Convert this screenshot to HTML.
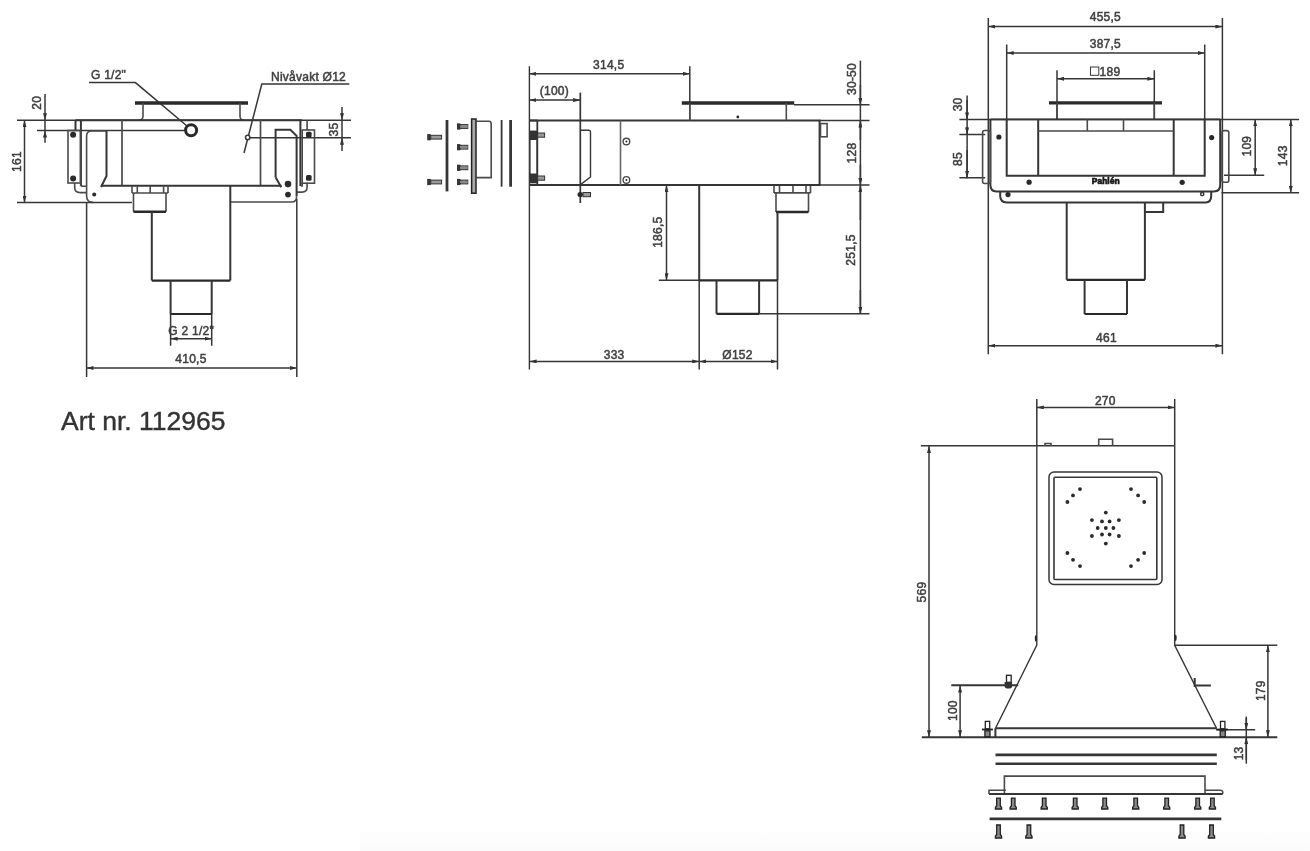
<!DOCTYPE html>
<html><head><meta charset="utf-8">
<style>
html,body{margin:0;padding:0;background:#fff;width:1310px;height:851px;overflow:hidden}
svg{display:block;position:absolute;left:0;top:0;will-change:transform}
text{font-family:"Liberation Sans",sans-serif;fill:#404040;stroke:#404040;stroke-width:0.5;letter-spacing:0.25px}
.d{font-size:12px}
.k{stroke:#363636;stroke-width:2;fill:none}
.m{stroke:#4a4a4a;stroke-width:1.6;fill:none}
.t{stroke:#363636;stroke-width:1.5;fill:none}
.g{stroke:#666;stroke-width:1.6;fill:none}
.h{stroke:#2a2a2a;stroke-width:3.3;fill:none}
.dm{stroke:#363636;stroke-width:1.5;fill:none;marker-start:url(#ar);marker-end:url(#ar)}
.de{stroke:#363636;stroke-width:1.5;fill:none;marker-end:url(#ar)}
.f{fill:#2a2a2a;stroke:none}
</style></head>
<body>
<div style="position:absolute;left:360px;top:831px;width:950px;height:20px;background:linear-gradient(#fefefe,#fbfbfb)"></div>
<svg width="1310" height="851" viewBox="0 0 1310 851">
<defs>
<marker id="ar" viewBox="0 0 7 4" refX="7" refY="2" markerWidth="7" markerHeight="4" orient="auto-start-reverse" markerUnits="userSpaceOnUse"><path d="M0,0 L7,2 L0,4z" fill="#333"/></marker>
<g id="sv"><path d="M-1.8 0 H1.8 V7.5 L3.1 9.3 V10.8 H-3.1 V9.3 L-1.8 7.5 Z" style="fill:#8a8a8a;stroke:#222;stroke-width:1.3"/></g>
<g id="sv2"><path d="M-1.8 0 H1.8 V9.5 L3.1 11.3 V13 H-3.1 V11.3 L-1.8 9.5 Z" style="fill:#8a8a8a;stroke:#222;stroke-width:1.3"/></g>
</defs>

<!-- ============ LEFT VIEW ============ -->
<g id="left">
<!-- leaders -->
<text class="d" x="91" y="79">G 1/2"</text>
<path class="t" d="M89 82.6 H135.4 L187 126"/>
<text class="d" x="271" y="80.5">Nivåvakt Ø12</text>
<path class="t" d="M349.3 84.1 H261.8 L244 153"/>
<circle class="t" cx="247.7" cy="137.5" r="2.2" style="fill:#fff"/>
<!-- lid -->
<path class="h" d="M135 103 H248"/>
<path class="m" d="M143 103 V116 Q143 120 139 120.2 M240 103 V116 Q240 120 244 120.2"/>
<!-- top/ext lines -->
<path class="t" d="M17 120.2 H351"/>
<path class="k" d="M75.5 120.2 H302"/>
<path class="t" d="M37 130.5 H186"/>
<path class="t" d="M250 137.7 H351"/>
<path class="k" d="M75.5 120 V130.5 M80.9 120 V186 M300.4 120 V186"/><path class="k" style="stroke:#4a4a4a;stroke-width:1.7" d="M122 120 V186 M260.5 120 V186"/>
<path class="k" d="M102 185.8 H281.6"/>
<!-- circle G1/2 -->
<circle cx="191.1" cy="130.2" r="5.5" style="fill:#fff;stroke:#2a2a2a;stroke-width:3"/>
<!-- left bracket -->
<rect class="m" x="68" y="130.5" width="12.4" height="52.5"/>
<circle class="f" cx="73.1" cy="134.8" r="3"/>
<circle class="f" cx="73.1" cy="178.5" r="3"/>
<path class="m" d="M74.7 183 V187.5 Q74.7 192.6 80.2 192.6 H86.3 M80.8 183 V185 Q80.8 186.2 83.2 186.2 H86.3"/>
<path class="m" d="M106.5 131 H91.5 Q86.6 131 86.6 136 V196 Q86.6 202.4 93 202.4"/>
<path class="k" d="M106.5 131 V176 L101 187"/>
<circle class="f" cx="94.2" cy="194.4" r="2"/>
<!-- right bracket -->
<rect class="m" x="302.2" y="130" width="12.3" height="53.2"/>
<rect class="f" x="306" y="131.8" width="5.6" height="5.6" rx="1.5"/>
<rect class="f" x="306" y="175.1" width="5.6" height="5.6" rx="1.5"/>
<path class="m" d="M307.1 182.8 V187 Q307.1 192.1 302 192.1 H296.6 M302.2 182.8 V185.9 H300.9 M307.1 120.2 V130"/>
<path class="k" d="M275.6 177.3 V129.8 H290.4 L296.6 135.9 V196.4"/>
<path class="k" d="M275.6 177.3 L281.2 187.2"/>
<path class="m" d="M296.6 196.4 Q296.6 202 291.7 202 H229.8"/>
<circle class="f" cx="288" cy="184.1" r="3.3"/>
<circle class="f" cx="288" cy="194.6" r="2.9"/>
<!-- bottom ext line -->
<path class="t" d="M17 202.6 H132"/>
<!-- nut -->
<path class="m" d="M132 186 V193 M168 186 V193 M133.5 193 V211.7 M166 193 V211.7 M132 193 H168 M137.3 186 V193 M150.2 186 V193 M163.6 186 V193"/>
<path class="h" style="stroke-width:2.4" d="M133.5 211.7 H166"/>
<!-- cylinder -->
<path class="k" d="M151.8 211.7 V280.6 M230.3 185.6 V280.6"/>
<path class="h" style="stroke-width:2.2" d="M151.8 280.6 H230.3"/>
<path class="k" d="M170.6 280.6 V314 M211.7 280.6 V314"/>
<path class="h" style="stroke-width:2.2" d="M170.6 314 H211.7"/>
<!-- dims -->
<path class="t" d="M170.6 314 V345.7 M211.7 314 V345.7 M86.6 202 V377 M296.8 199 V377"/>
<path class="dm" d="M170.6 338.7 H211.7"/>
<text class="d" x="168.3" y="335">G 2 1/2"</text>
<path class="dm" d="M86.5 368 H296.8"/>
<text class="d" x="175.3" y="363.4">410,5</text>
<path class="dm" d="M24.5 120.2 V202.6"/>
<text class="d" text-anchor="middle" transform="translate(20.5 161.5) rotate(-90)">161</text>
<path class="de" d="M45 94 V120.2"/><path class="de" d="M45 142.7 V130.5"/>
<path class="t" d="M45 120.2 V130.5"/>
<text class="d" text-anchor="middle" transform="translate(40.7 102.8) rotate(-90)">20</text>
<path class="de" d="M342 107 V120.2"/><path class="de" d="M342 151 V137.7"/>
<path class="t" d="M342 120.2 V137.7"/>
<text class="d" text-anchor="middle" transform="translate(337.8 129.6) rotate(-90)">35</text>
</g>

<text x="61" y="430" style="font-size:26.5px;fill:#333;stroke:#333;stroke-width:0.4;letter-spacing:0">Art nr. 112965</text>

<!-- MIDDLE -->
<g id="mid">
<!-- exploded parts -->
<rect x="427.2" y="134.1" width="3.6" height="6.2" style="fill:#333"/><rect x="430.8" y="135.29999999999998" width="10.8" height="3.8" style="fill:#9a9a9a;stroke:#333;stroke-width:1"/>
<rect x="427.2" y="178.9" width="3.6" height="6.2" style="fill:#333"/><rect x="430.8" y="180.1" width="10.8" height="3.8" style="fill:#9a9a9a;stroke:#333;stroke-width:1"/>
<rect x="457" y="123.4" width="3.4" height="6.2" style="fill:#333"/><rect x="460.4" y="124.6" width="7.4" height="3.8" style="fill:#9a9a9a;stroke:#333;stroke-width:1"/>
<rect x="457" y="144.1" width="3.4" height="6.2" style="fill:#333"/><rect x="460.4" y="145.29999999999998" width="7.4" height="3.8" style="fill:#9a9a9a;stroke:#333;stroke-width:1"/>
<rect x="457" y="164.70000000000002" width="3.4" height="6.2" style="fill:#333"/><rect x="460.4" y="165.9" width="7.4" height="3.8" style="fill:#9a9a9a;stroke:#333;stroke-width:1"/>
<rect x="457" y="178.9" width="3.4" height="6.2" style="fill:#333"/><rect x="460.4" y="180.1" width="7.4" height="3.8" style="fill:#9a9a9a;stroke:#333;stroke-width:1"/>
<path class="k" style="stroke-width:2.8" d="M447 120 V191.4"/>
<path class="k" style="stroke-width:3" d="M457.3 126.5 H460 M457.3 147.2 H460 M457.3 167.8 H460 M457.3 182 H460"/>
<path class="g" style="stroke-width:2.2;stroke:#888" d="M460 126.5 H467.7 M460 147.2 H467.7 M460 167.8 H467.7 M460 182 H467.7"/>
<rect x="471.6" y="119" width="4.4" height="74.2" style="fill:#aaa;stroke:#222;stroke-width:1.5"/>
<path class="m" d="M476.1 121.2 H489 Q491.2 121.2 491.2 124 V177.6 H476.1"/>
<path class="k" style="stroke-width:1.8" d="M501.6 120 V186.7"/><path class="k" style="stroke-width:2.8" d="M510.6 120 V186.7"/>
<!-- dims -->
<path class="t" style="stroke-width:1.4;stroke:#333" d="M529.4 66.3 V369.6"/>
<path class="dm" d="M529.4 73.8 H689.8"/>
<text class="d" x="608.7" y="68.5" text-anchor="middle">314,5</text>
<path class="t" d="M689.8 66.3 V120.5"/>
<path class="dm" d="M529.4 100.1 H580.1"/>
<text class="d" x="554.4" y="95.4" text-anchor="middle">(100)</text>

<path class="t" d="M860.4 60.6 V313.8"/>
<path class="de" d="M860.4 85 V104.8"/><path class="de" d="M860.4 140 V120.5"/><path class="de" d="M860.4 165 V185.1"/>
<path class="de" d="M860.4 220 V185.1"/><path class="de" d="M860.4 290 V313.8"/>
<text class="d" text-anchor="middle" transform="translate(855.8 79) rotate(-90)">30-50</text>
<text class="d" text-anchor="middle" transform="translate(855.8 153) rotate(-90)">128</text>
<text class="d" text-anchor="middle" transform="translate(855 250) rotate(-90)">251,5</text>
<path class="t" d="M794 104.8 H869.5 M819.6 120.5 H869.5 M819.6 185.1 H869.5 M759 313.8 H869.5"/>
<path class="dm" d="M666.5 185.1 V280.3"/>
<text class="d" text-anchor="middle" transform="translate(661.5 232.2) rotate(-90)">186,5</text>
<path class="t" d="M658.8 280.3 H699.2"/>
<path class="dm" d="M529.6 361.4 H699.2"/>
<text class="d" x="614.1" y="358.6" text-anchor="middle">333</text>
<path class="dm" d="M699.2 361.4 H777.5"/>
<text class="d" x="737.5" y="358.6" text-anchor="middle">Ø152</text>
<path class="t" d="M699.2 280.3 V369.6 M777.5 280.3 V369.6"/>
<!-- body -->
<path class="k" d="M529.4 120.5 H819.6 V185.1 H529.4"/>
<path class="g" style="stroke-width:1.6;stroke:#666" d="M620.5 120.5 V185.1"/>
<circle class="m" cx="626.4" cy="141.5" r="3.3" style="stroke-width:1.4"/><circle class="f" cx="626.4" cy="141.5" r="1"/>
<circle class="m" cx="626.4" cy="179.9" r="3.3" style="stroke-width:1.4"/><circle class="f" cx="626.4" cy="179.9" r="1"/>
<rect class="m" x="820.5" y="123.6" width="6.6" height="13.2"/>
<path class="h" d="M681.8 103 H794.2"/>
<path class="m" d="M689.8 103 V120.5 M786.3 103 V120.5"/>
<circle class="f" cx="737.8" cy="117" r="1.4"/>
<!-- left flange bracket -->
<path class="k" style="stroke-width:1.8" d="M529.4 120.5 H537.6"/>
<rect x="530.2" y="131.2" width="6.8" height="51.7" style="fill:none;stroke:#555;stroke-width:1"/>
<path class="k" style="stroke-width:1.8" d="M537.3 120.6 V185.2"/>
<path d="M529.4 130.8 H536 Q537.8 130.8 537.8 133 V138 Q537.8 140 536 140 H529.4 Z M529.4 173.5 H536 Q537.8 173.5 537.8 175.5 V181 Q537.8 183 536 183 H529.4 Z" style="fill:#333"/>
<rect x="537.6" y="133" width="7" height="4.2" style="fill:#999;stroke:#333;stroke-width:1"/>
<rect x="537.6" y="176" width="7" height="4.2" style="fill:#999;stroke:#333;stroke-width:1"/>
<path class="k" style="stroke-width:1.7" d="M580.3 92.6 V203"/>
<path class="k" style="stroke-width:1.4" d="M580.5 130.2 H589 Q590.5 130.2 590.5 132 V177 L580.5 184.6"/>
<circle class="f" cx="580.2" cy="194.6" r="2.7"/>
<rect x="583" y="192.5" width="7.5" height="4.2" style="fill:#999;stroke:#333;stroke-width:1"/>
<!-- nut -->
<path class="m" d="M774 186 V192.9 M810.5 186 V192.9 M776 192.9 V212 M808.5 192.9 V212 M774 192.9 H810.5 M779.5 186 V192.9 M793 186 V192.9 M806 186 V192.9"/>
<path class="h" style="stroke-width:2.4" d="M776 212 H808.5"/>
<!-- cylinder -->
<path class="k" d="M699.2 185.1 V280.3 M777.5 211.6 V280.3"/>
<path class="h" style="stroke-width:2.2" d="M699.2 280.3 H777.5"/>
<path class="k" d="M716.5 280.3 V313.8 M759.1 280.3 V313.8"/>
<path class="h" style="stroke-width:2.2" d="M716.5 313.8 H759.1"/>
</g>
<!-- RIGHT TOP -->
<g id="rtop">
<path class="t" d="M988.3 18.1 V354.2 M1222.4 18.1 V354.2"/>
<path class="dm" d="M988.3 26.6 H1222.4"/>
<text class="d" x="1105.4" y="21.2" text-anchor="middle">455,5</text>
<path class="t" d="M1006.7 44.4 V119.4 M1204.7 44.4 V119.4"/>
<path class="dm" d="M1006.7 53 H1204.7"/>
<text class="d" x="1105.4" y="47.8" text-anchor="middle">387,5</text>
<path class="t" d="M1057 70.3 V119.4 M1154.3 70.3 V119.4"/>
<path class="dm" d="M1057 78.8 H1154.3"/>
<text class="d" x="1110" y="75.5" text-anchor="middle">189</text>
<rect x="1090.5" y="67" width="8.3" height="8.3" style="fill:none;stroke:#3a3a3a;stroke-width:1"/>
<path class="h" d="M1049 102.8 H1162"/>
<path class="m" d="M1057 102.8 V119.4 M1154.3 102.8 V119.4"/>
<!-- left dims -->
<path class="t" d="M967.1 95.6 V178.3"/>
<path class="de" d="M967.1 100 V119.4"/><path class="de" d="M967.1 127 V134.4"/><path class="de" d="M967.1 150 V177.8"/>
<text class="d" text-anchor="middle" transform="translate(962.3 104.4) rotate(-90)">30</text>
<text class="d" text-anchor="middle" transform="translate(962.3 159) rotate(-90)">85</text>
<path class="t" d="M959.4 119.4 H1299.1 M959.4 134.4 H985.2 M959.4 177.8 H985.2"/>
<!-- right dims -->
<path class="dm" d="M1255.2 119.4 V175.3"/>
<text class="d" text-anchor="middle" transform="translate(1251 146.1) rotate(-90)">109</text>
<path class="t" d="M1224 175.3 H1264.2"/>
<path class="dm" d="M1290.8 119.4 V192.7"/>
<text class="d" text-anchor="middle" transform="translate(1286.5 155.8) rotate(-90)">143</text>
<path class="t" d="M1221.5 192.7 H1299.1"/>
<path class="dm" d="M988.3 345.7 H1222.4"/>
<text class="d" x="1106.5" y="341.9" text-anchor="middle">461</text>
<!-- body -->
<path class="k" style="stroke-width:1.8" d="M990.4 119.4 H1220.2"/>
<path class="k" d="M990.4 119.4 V185 Q990.4 191.4 996.5 191.4 H1214 Q1220.2 191.4 1220.2 185 V119.4"/>
<path class="k" d="M1006.7 119.4 V175.7 H1204.7 V119.4 M1038.2 119.4 V175.7 M1173.7 119.4 V175.7"/>
<path class="m" d="M1038.2 131 H1173.7 M1087.3 119.4 V131 M1123.5 119.4 V131"/>
<rect class="m" x="982.6" y="130.5" width="7.8" height="53" rx="2"/>
<rect class="m" x="1222" y="130.6" width="6.8" height="51.7" rx="2"/>
<circle class="f" cx="998.9" cy="137" r="2.6"/>
<circle class="f" cx="1029.1" cy="182.2" r="2.6"/>
<circle class="f" cx="1211.7" cy="137.6" r="2.6"/>
<circle class="f" cx="1182.2" cy="182.3" r="2.6"/>
<circle class="f" cx="1008" cy="194.6" r="2.6"/>
<circle class="t" cx="1202.2" cy="194.1" r="1.6"/>
<text x="1105.7" y="184.4" text-anchor="middle" style="font-size:8.5px;font-weight:bold;fill:#1a1a1a;stroke:#1a1a1a;stroke-width:0.7;letter-spacing:0">Pahlén</text>
<path class="k" d="M1000.2 192 V196 Q1000.2 202.4 1006.9 202.4 H1205.6 Q1211.2 202.4 1211.2 196 V192"/>
<path class="k" d="M1066.7 202.4 V279.8 M1144.9 202.4 V279.8 M1144.9 212 H1163.2 V202.4"/>
<path class="h" style="stroke-width:2.2" d="M1066.7 279.8 H1144.9"/>
<path class="k" d="M1084.6 279.8 V314 M1127 279.8 V314"/>
<path class="h" style="stroke-width:2.2" d="M1084.6 314 H1127"/>
</g>

<!-- BOTTOM RIGHT -->
<g id="rbot">
<path class="t" d="M1036.8 398.9 V445.8 M1174.7 398.9 V445.8"/>
<path class="dm" d="M1036.8 407.4 H1174.7"/>
<text class="d" x="1105.3" y="404.7" text-anchor="middle">270</text>
<path class="t" d="M920.8 445.8 H1036.8"/>
<path class="k" style="stroke-width:1.4" d="M1036.8 445.8 H1174.7"/>
<path class="k" style="stroke-width:1.4" d="M1036.8 445.8 V645 L995.4 728.5 M1174.7 445.8 V645.3 L1216.5 728.3"/>
<ellipse class="f" cx="1035.9" cy="638.5" rx="1.1" ry="3.2"/><ellipse class="f" cx="1175.6" cy="638" rx="1.1" ry="3.2"/>
<path class="m" d="M1098.7 445.8 V439.3 H1112.6 V445.8"/>
<path class="m" d="M1045 445.8 V443.5 H1051 V445.8"/>
<path class="dm" d="M929 446 V737.2"/>
<text class="d" text-anchor="middle" transform="translate(925.7 592) rotate(-90)">569</text>
<rect class="k" x="1049" y="472" width="113" height="112.5" rx="5" style="stroke-width:1.5"/>
<rect class="k" x="1054" y="477.2" width="102.8" height="102.3" rx="1" style="stroke-width:1.6"/>
<g class="f">
<circle cx="1067.4" cy="502" r="1.9"/><circle cx="1073" cy="495.4" r="1.9"/><circle cx="1080" cy="489.1" r="1.9"/>
<circle cx="1131" cy="489.1" r="1.9"/><circle cx="1138.1" cy="495.4" r="1.9"/><circle cx="1144.2" cy="502" r="1.9"/>
<circle cx="1067.4" cy="553" r="1.9"/><circle cx="1073" cy="559.8" r="1.9"/><circle cx="1080" cy="566.1" r="1.9"/>
<circle cx="1131" cy="566.1" r="1.9"/><circle cx="1138.1" cy="559.8" r="1.9"/><circle cx="1144.2" cy="553" r="1.9"/>
<circle cx="1105.8" cy="512.6" r="1.9"/>
<circle cx="1091.9" cy="520.1" r="1.9"/><circle cx="1118.9" cy="520.1" r="1.9"/>
<circle cx="1102" cy="521.4" r="1.9"/><circle cx="1109.6" cy="521.4" r="1.9"/>
<circle cx="1097.7" cy="528" r="1.9"/><circle cx="1105.8" cy="528" r="1.9"/><circle cx="1113.4" cy="528" r="1.9"/>
<circle cx="1102" cy="534.5" r="1.9"/><circle cx="1109.6" cy="534.5" r="1.9"/>
<circle cx="1091.9" cy="536" r="1.9"/><circle cx="1118.9" cy="536" r="1.9"/>
<circle cx="1105.8" cy="543.6" r="1.9"/>
</g>
<!-- base -->
<path class="k" d="M995.4 728.3 H1216.8 M995.4 728.3 V737.2"/>
<path class="k" d="M921.8 737.2 H1277.3"/>
<path class="dm" d="M960.1 685.5 V737.2"/>

<text class="d" text-anchor="middle" transform="translate(956.5 710.6) rotate(-90)">100</text>
<path class="dm" d="M1267.9 645.3 V737.2"/>
<path class="t" d="M1174.7 645.3 H1277.3"/>
<text class="d" text-anchor="middle" transform="translate(1264.5 690.7) rotate(-90)">179</text>
<path class="t" d="M1246.3 716.5 V763.7"/>
<path class="de" d="M1246.3 718 V729.8"/><path class="de" d="M1246.3 760 V737.2"/>
<path class="t" d="M1216 729.8 H1255.2"/>
<text class="d" text-anchor="middle" transform="translate(1243.3 753.4) rotate(-90)">13</text>
<!-- bolts -->
<path class="k" d="M951.3 685.3 H1018.2"/>
<rect x="1006.5" y="675.3" width="4.7" height="7" style="fill:#fff;stroke:#222;stroke-width:1.3"/>
<path d="M1004.6 682 H1012.1 V686 Q1012.1 688.6 1008.4 688.6 Q1004.6 688.6 1004.6 686 Z" style="fill:#333"/>
<rect x="985.3" y="721.4" width="4.4" height="7.4" style="fill:#fff;stroke:#222;stroke-width:1.3"/>
<path d="M982 729.5 H992.9" style="stroke:#222;stroke-width:1.8"/>
<rect x="984.9" y="730.8" width="5.1" height="6" style="fill:#888;stroke:#222;stroke-width:1.3"/>
<rect x="1220.5" y="721.4" width="4.4" height="7.4" style="fill:#fff;stroke:#222;stroke-width:1.3"/>
<path d="M1217 729.5 H1228" style="stroke:#222;stroke-width:1.8"/>
<rect x="1220.2" y="730.8" width="5.1" height="6" style="fill:#888;stroke:#222;stroke-width:1.3"/>
<path class="k" d="M1194.7 678 V687 M1194.7 685.5 H1210.9"/>
<!-- gaskets -->
<path class="k" style="stroke-width:2.6" d="M995.5 754.9 H1216.8 M995.5 763.7 H1216.8"/>
<!-- frame -->
<path class="m" d="M1004.4 794.1 V776.1 H1205 V794.1"/>
<path class="k" d="M989 794.1 H1222.7"/>
<path class="m" d="M989 794.1 V790.3 H1005.9 M1205 790.3 H1220 Q1222.7 790.3 1222.7 792 V794.1"/>
<use href="#sv" x="998.5" y="798.2"/><use href="#sv" x="1013.2" y="798.2"/><use href="#sv" x="1044.2" y="798.2"/><use href="#sv" x="1075.2" y="798.2"/><use href="#sv" x="1104.7" y="798.2"/><use href="#sv" x="1135.7" y="798.2"/><use href="#sv" x="1166.7" y="798.2"/><use href="#sv" x="1197.7" y="798.2"/><use href="#sv" x="1212.4" y="798.2"/>
<use href="#sv2" x="998.5" y="825"/><use href="#sv2" x="1028.9" y="825"/><use href="#sv2" x="1182" y="825"/><use href="#sv2" x="1211.5" y="825"/>
<path class="k" style="stroke-width:2.6" d="M989.6 818.9 H1221.3"/>
</g>
<!-- BOTTOM RIGHT -->
</svg>
</body></html>
